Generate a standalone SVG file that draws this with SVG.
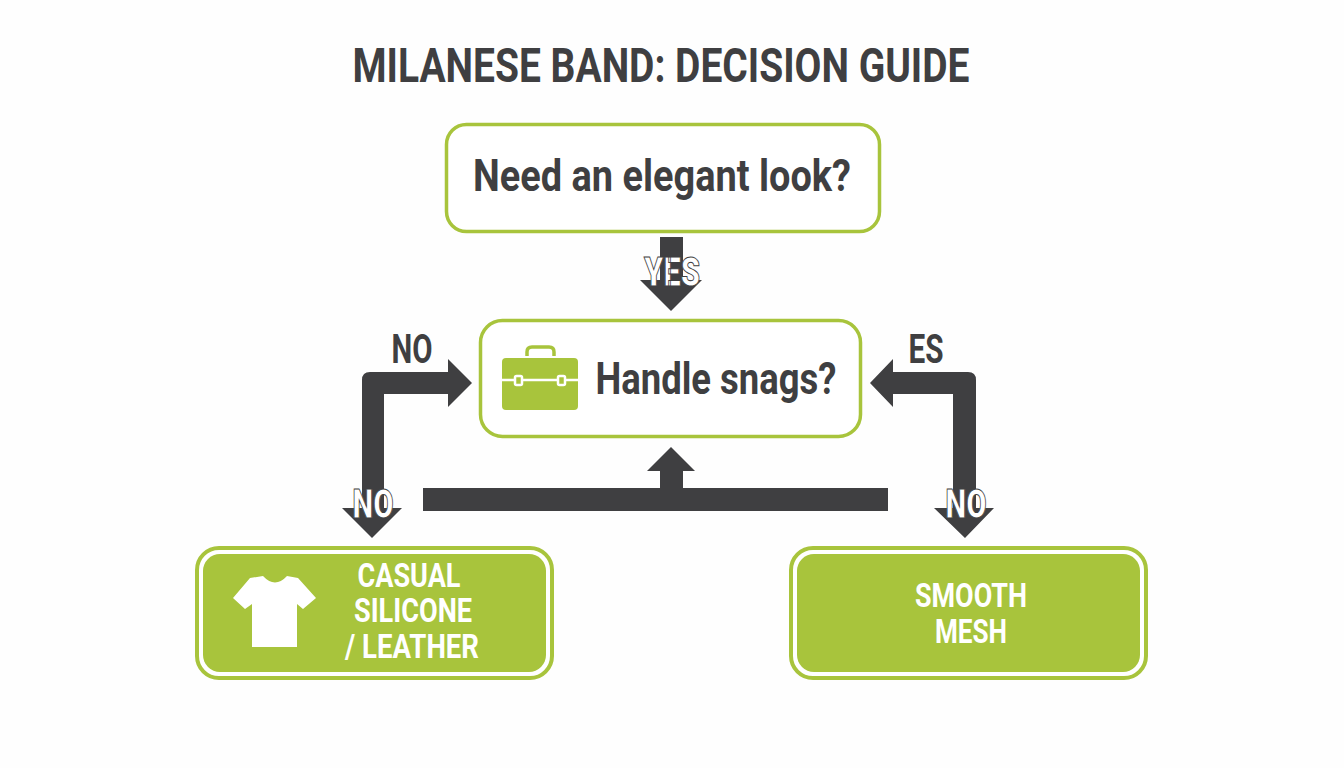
<svg xmlns="http://www.w3.org/2000/svg" width="1344" height="768" viewBox="0 0 1344 768">
<defs><style>
text{font-family:"Roboto","Liberation Sans",sans-serif;font-weight:700;text-anchor:middle}
.dark{fill:#3f3f41}
.q{fill:#3f3f41;font-size:45px}
.t{fill:#fff;font-size:33px}
.lab{fill:#3f3f41;font-size:40px}
.olab{fill:#fff;stroke:#3f3f41;stroke-width:1px;font-size:40px;font-weight:900}
.box{fill:#fff;stroke:#a8c43c;stroke-width:3.500px}
.outer{fill:#fff;stroke:#a8c43c;stroke-width:4px}
.inner{fill:#a8c43c}
</style></defs>
<rect width="1344" height="768" fill="#fefefe"/>
<text x="661" y="82" fill="#3f3f41" style="font-size:49px" textLength="617" lengthAdjust="spacingAndGlyphs">MILANESE BAND: DECISION GUIDE</text>
<g id="connectors" class="dark">
<path d="M660 237H683V280H702L671 311L640 280H660Z"/>
<path d="M362 508V380Q362 372 370 372H448V359L472 383L448 407V394H384V508H402L372 538L342 508Z"/>
<path d="M976 508V380Q976 372 968 372H893V359L870 383L893 407V394H953V508H994L965 538L934 508Z"/>
<path d="M423 488H660V471H647L671 447L695 471H683V488H888V511H423Z"/>
</g>
<g id="node-elegant">
<rect class="box" x="446.500" y="124.500" width="433" height="107" rx="20"/>
<text class="q" x="662" y="191" textLength="378" lengthAdjust="spacingAndGlyphs">Need an elegant look?</text>
</g>
<g id="node-snags">
<rect class="box" x="480.500" y="320.500" width="380" height="116" rx="22"/>
<g id="icon-briefcase">
<path d="M527 356V352Q527 347 532 347H549Q554 347 554 352V356" fill="none" stroke="#a8c43c" stroke-width="3.500"/>
<rect class="inner" x="502" y="358" width="76" height="52" rx="4"/>
<path d="M502 380H578" stroke="#fff" stroke-width="2.500"/>
<rect x="515" y="376" width="7" height="9" rx="1.500" fill="#a8c43c" stroke="#fff" stroke-width="2.500"/>
<rect x="558" y="376" width="7" height="9" rx="1.500" fill="#a8c43c" stroke="#fff" stroke-width="2.500"/>
</g>
<text class="q" x="716" y="394" textLength="241" lengthAdjust="spacingAndGlyphs">Handle snags?</text>
</g>
<g id="node-casual">
<rect class="outer" x="197" y="548" width="355" height="130" rx="22"/>
<rect class="inner" x="203" y="554" width="343" height="118" rx="17"/>
<path d="M250 578L263 576Q275 589 287 576L298 578L316 598L303 609L297 604V647H252V604L245 609L233 598Z" fill="#fff"/>
<text class="t" x="409" y="587" textLength="103" lengthAdjust="spacingAndGlyphs">CASUAL</text>
<text class="t" x="413" y="622" textLength="118" lengthAdjust="spacingAndGlyphs">SILICONE</text>
<text class="t" x="412" y="658" textLength="134" lengthAdjust="spacingAndGlyphs">/ LEATHER</text>
</g>
<g id="node-mesh">
<rect class="outer" x="791" y="548" width="355" height="130" rx="22"/>
<rect class="inner" x="797" y="554" width="343" height="118" rx="17"/>
<text class="t" x="971" y="607" textLength="112" lengthAdjust="spacingAndGlyphs">SMOOTH</text>
<text class="t" x="971" y="643" textLength="72" lengthAdjust="spacingAndGlyphs">MESH</text>
</g>
<g id="labels">
<text class="olab" x="672" y="286" textLength="56" lengthAdjust="spacingAndGlyphs">YES</text>
<text class="lab" x="412" y="363" textLength="41" lengthAdjust="spacingAndGlyphs">NO</text>
<text class="lab" x="926" y="363" textLength="35" lengthAdjust="spacingAndGlyphs">ES</text>
<text class="olab" x="373" y="518" textLength="41" lengthAdjust="spacingAndGlyphs">NO</text>
<text class="olab" x="966" y="518" textLength="41" lengthAdjust="spacingAndGlyphs">NO</text>
</g>
</svg>
